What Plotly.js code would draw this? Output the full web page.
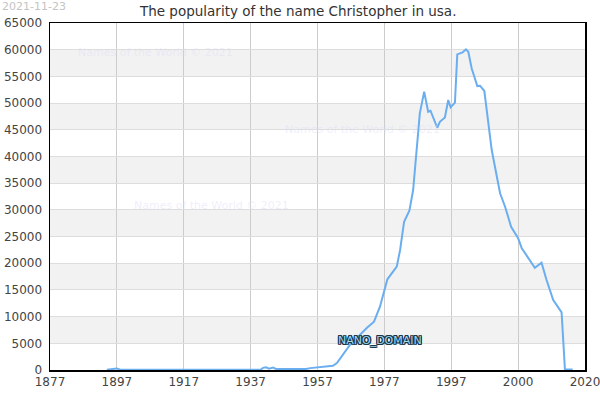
<!DOCTYPE html>
<html>
<head>
<meta charset="utf-8">
<script src="https://cdn.plot.ly/plotly-3.0.1.min.js"></script>
<style>html,body{margin:0;padding:0;background:#fff;}#chart{width:600px;height:400px;}</style>
</head>
<body>
<div id="chart"></div>
<script>
// Data (x in the chart's own axis units)
const years = [1894, 1897, 1898, 1908.4, 1909, 1910, 1940, 1940.7, 1941.6, 1942.5, 1943.7, 1944.6, 1953.6, 1954.8, 1957.7, 1961.6, 1962.8, 1966.7, 1971.8, 1973.9, 1975.7, 1977.9, 1980.7, 1981.7, 1982.9, 1984.5, 1985.6, 1987.6, 1988.9, 1990.1, 1990.8, 1992.8, 1993.6, 1995.1, 1996.1, 1996.8, 1998.1, 1998.8, 2000.4, 2001.4, 2002.1, 2003.1, 2004.8, 2005.6, 2006.9, 2008.1, 2009.1, 2011.6, 2013.1, 2014.9, 2017.0, 2018.1, 2022.0, 2024.0, 2025.5, 2027.5, 2030.0, 2031.0, 2033.3];
const counts = [50, 300, 60, 60, 200, 60, 60, 400, 500, 250, 450, 200, 200, 350, 500, 800, 1300, 4700, 7900, 9050, 11900, 16990, 19350, 22480, 27780, 29900, 33710, 48080, 52130, 48380, 48570, 45380, 46500, 47320, 50570, 49200, 50070, 59130, 59500, 60060, 59620, 56510, 53190, 53250, 52260, 46500, 41200, 33100, 30590, 26840, 24670, 22790, 19160, 20100, 16860, 13110, 10800, 100, 100];
const tickVals = [1877, 1897, 1917, 1937, 1957, 1977, 1997, 2017, 2037];
const tickLabels = ['1877', '1897', '1917', '1937', '1957', '1977', '1997', '2000', '2020'];
const yTicks = [0, 5000, 10000, 15000, 20000, 25000, 30000, 35000, 40000, 45000, 50000, 55000, 60000, 65000];
const bandStarts = [5000, 15000, 25000, 35000, 45000, 55000];
const titleText = 'The popularity of the name Christopher in usa.';
const dateText = '2021-11-23';
const watermarkText = 'Names of the World © 2021';
const domainText = 'NANO_DOMAIN';

const shapes = bandStarts.map(s => ({
  type: 'rect', xref: 'paper', yref: 'y', x0: 0, x1: 1, y0: s, y1: s + 5000,
  fillcolor: '#f2f2f2', line: {width: 0}, layer: 'below'
}));

const wm = {family: 'DejaVu Sans', size: 11, color: 'rgba(220,220,245,0.45)'};
const px = v => (v - 50) / 535;
const py = v => (370 - v) / 347;
const annotations = [
  {text: dateText, xref: 'paper', yref: 'paper', x: px(0), y: py(0), xanchor: 'left', yanchor: 'top', yshift: 2, showarrow: false,
   font: {family: 'DejaVu Sans', size: 11, color: '#c4c4c4'}},
  {text: watermarkText, xref: 'paper', yref: 'paper', x: px(155), y: py(53), xanchor: 'center', yanchor: 'middle', showarrow: false, font: wm},
  {text: watermarkText, xref: 'paper', yref: 'paper', x: px(362), y: py(129), xanchor: 'center', yanchor: 'middle', showarrow: false, font: wm},
  {text: watermarkText, xref: 'paper', yref: 'paper', x: px(211), y: py(205), xanchor: 'center', yanchor: 'middle', showarrow: false, font: wm},
  {text: domainText, xref: 'paper', yref: 'paper', x: px(380), y: py(340), xanchor: 'center', yanchor: 'middle', showarrow: false,
   font: {family: 'DejaVu Sans', size: 11, color: '#a6d8f0',
          shadow: '1px 0 0 #17364a, -1px 0 0 #17364a, 0 1px 0 #17364a, 0 -1px 0 #17364a, 1px 1px 0 #17364a, -1px -1px 0 #17364a, 1px -1px 0 #17364a, -1px 1px 0 #17364a'}}
];

const trace = {
  x: years, y: counts, type: 'scatter', mode: 'lines',
  line: {color: '#6aaef0', width: 2}, hoverinfo: 'x+y'
};

const layout = {
  width: 600, height: 400,
  margin: {l: 50, r: 15, t: 23, b: 30},
  paper_bgcolor: '#ffffff', plot_bgcolor: '#ffffff',
  showlegend: false,
  title: {text: titleText, x: 0.497, xanchor: 'center', y: 0.973, yanchor: 'middle',
          font: {family: 'DejaVu Sans', size: 13.5, color: '#333333'}},
  xaxis: {range: [1877, 2037], tickvals: tickVals, ticktext: tickLabels, showgrid: true, gridcolor: '#cccccc', gridwidth: 1,
          zeroline: false, showline: true, linecolor: '#000000', linewidth: 1.5, mirror: true, ticks: '',
          ticklabeloverflow: 'allow',
          tickfont: {family: 'DejaVu Sans', size: 12, color: '#444444'}},
  yaxis: {range: [0, 65000], tickvals: yTicks, tickformat: 'd', showgrid: true, gridcolor: '#dddddd', gridwidth: 1,
          zeroline: false, showline: true, linecolor: '#000000', linewidth: 1.5, mirror: true, ticks: '',
          tickfont: {family: 'DejaVu Sans', size: 12, color: '#444444'}, ticklabelstandoff: 4},
  shapes: shapes,
  annotations: annotations
};

Plotly.newPlot('chart', [trace], layout, {displayModeBar: false, staticPlot: true});
</script>
</body>
</html>
